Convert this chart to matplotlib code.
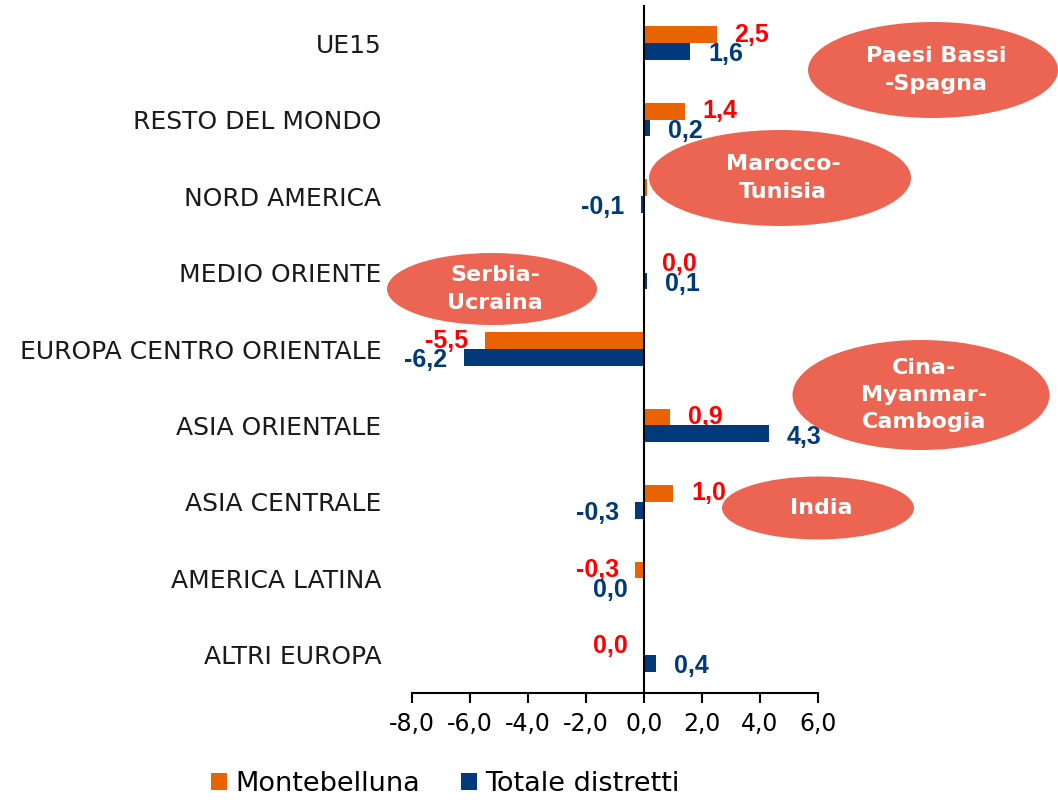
import numpy as np
import matplotlib.pyplot as plt
from matplotlib.patches import Ellipse

categories = ["UE15", "RESTO DEL MONDO", "NORD AMERICA", "MEDIO ORIENTE",
              "EUROPA CENTRO ORIENTALE", "ASIA ORIENTALE", "ASIA CENTRALE",
              "AMERICA LATINA", "ALTRI EUROPA"]
montebelluna = [2.5, 1.4, 0.1, 0.0, -5.5, 0.9, 1.0, -0.3, 0.0]
totale = [1.6, 0.2, -0.1, 0.1, -6.2, 4.3, -0.3, 0.0, 0.4]
xticks = [-8, -6, -4, -2, 0, 2, 4, 6]

bubbles = ["Paesi Bassi\n-Spagna", "Marocco-\nTunisia", "Serbia-\nUcraina",
           "Cina-\nMyanmar-\nCambogia", "India"]

ORANGE = "#E96400"
NAVY = "#003A7A"
RED = "#FF0000"
CORAL = "#EC6553"

W, H = 1058, 807
fig = plt.figure(figsize=(W / 100, H / 100), dpi=100)
ax = fig.add_axes([412 / W, 1 - 693 / H, (818 - 412) / W, (693 - 5) / H])

y = np.arange(len(categories))
bh = 0.22
ax.barh(y - bh / 2, montebelluna, height=bh, color=ORANGE, zorder=2)
ax.barh(y + bh / 2, totale, height=bh, color=NAVY, zorder=2)

ax.set_xlim(-8, 6)
ax.set_ylim(len(categories) - 0.5, -0.5)
ax.axvline(0, color="black", lw=1.5, zorder=3)

ax.set_yticks(y)
ax.set_yticklabels(categories, fontsize=18, color="#1a1a1a")
ax.tick_params(axis="y", length=0, pad=22)
ax.set_xticks(xticks)
ax.set_xticklabels([f"{v:.1f}".replace(".", ",") for v in xticks], fontsize=17)
ax.tick_params(axis="x", direction="out", length=7, width=1.5, pad=7)
for s in ["left", "right", "top"]:
    ax.spines[s].set_visible(False)
ax.spines["bottom"].set_linewidth(1.5)

# zero values: label on the left for these rows
left_zero = {("m", 8), ("t", 7)}


def put_labels(vals, offset_y, color, key):
    for i, v in enumerate(vals):
        txt = f"{v:.1f}".replace(".", ",")
        left = v < 0 or (v == 0 and (key, i) in left_zero)
        dy = -bh / 2 if key == "m" else bh / 2
        ax.annotate(txt, (v, i + dy), xytext=(-12 if left else 13, offset_y),
                    textcoords="offset points", ha="right" if left else "left",
                    va="center", fontsize=18, fontweight="bold", color=color,
                    family="Liberation Sans", zorder=1, annotation_clip=False)


put_labels(montebelluna, 0, RED, "m")
put_labels(totale, -2, NAVY, "t")

# coral bubbles, pixel boxes (cx, cy, w, h)
boxes = [(933, 70, 250, 96), (780, 178, 262, 96), (492, 289, 210, 72),
         (921, 395, 257, 110), (818, 508, 192, 63)]
for (cx, cy, w, h), label in zip(boxes, bubbles):
    e = Ellipse((cx / W, 1 - cy / H), w / W, h / H, transform=fig.transFigure,
                facecolor=CORAL, edgecolor="none", zorder=5)
    fig.add_artist(e)
    fig.text(cx / W + 0.003, 1 - cy / H, label, ha="center", va="center", color="white",
             fontsize=16, fontweight="bold", linespacing=1.45, zorder=6)

ax.barh([0], [0], color=ORANGE, label="Montebelluna")
ax.barh([0], [0], color=NAVY, label="Totale distretti")
handles, labels = ax.get_legend_handles_labels()
fig.legend(handles[-2:], labels[-2:], loc="center", bbox_to_anchor=(445 / W, 1 - 784 / H),
           ncol=2, frameon=False, fontsize=19.5, handlelength=0.6, handleheight=0.6,
           handletextpad=0.3, columnspacing=1.5)

fig.savefig("out.png", dpi=100)
